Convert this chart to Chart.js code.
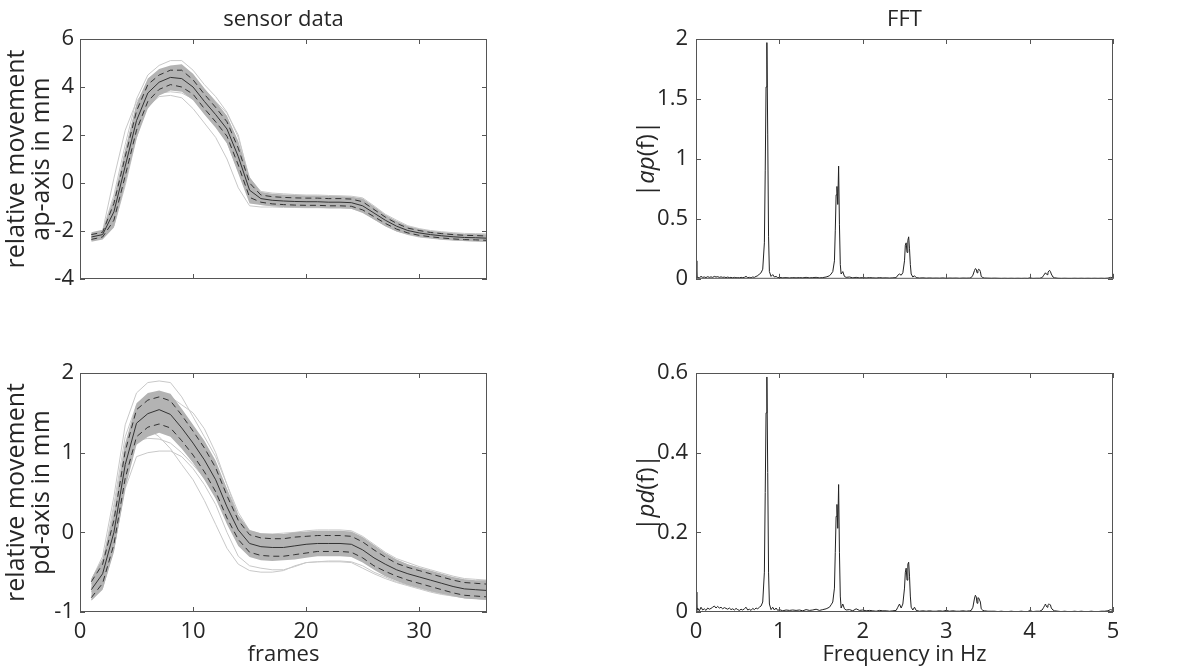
<!DOCTYPE html>
<html>
<head>
<meta charset="utf-8">
<script src="https://cdn.jsdelivr.net/npm/chart.js@4.4.0/dist/chart.umd.min.js"></script>
<style>
    body { margin: 0; background: #fff; width: 1187px; height: 670px; position: relative; overflow: hidden; }
    canvas { position: absolute; }
</style>
</head>
<body>
<canvas id="ap_time" width="560" height="300" style="left:0px;top:0px"></canvas>
<canvas id="pd_time" width="560" height="360" style="left:0px;top:310px"></canvas>
<canvas id="ap_fft" width="597" height="300" style="left:590px;top:0px"></canvas>
<canvas id="pd_fft" width="597" height="360" style="left:590px;top:310px"></canvas>
<script>
// ---- sensor data (frames 1..36) ----
const frames = [1,2,3,4,5,6,7,8,9,10,11,12,13,14,15,16,17,18,19,20,21,22,23,24,25,26,27,28,29,30,31,32,33,34,35,36];

const ap_mean  = [-2.25,-2.15,-1.2,0.7,2.6,3.75,4.2,4.4,4.35,4.0,3.4,2.85,2.25,1.1,-0.3,-0.65,-0.72,-0.75,-0.77,-0.78,-0.78,-0.8,-0.8,-0.82,-0.95,-1.25,-1.55,-1.8,-1.98,-2.08,-2.15,-2.2,-2.24,-2.27,-2.28,-2.3];
const ap_upper = [-2.15,-2.05,-0.85,1.1,3.0,4.1,4.5,4.7,4.7,4.3,3.7,3.15,2.55,1.45,0.0,-0.5,-0.57,-0.6,-0.62,-0.63,-0.63,-0.65,-0.65,-0.67,-0.78,-1.1,-1.42,-1.68,-1.88,-1.98,-2.06,-2.11,-2.15,-2.18,-2.19,-2.21];
const ap_lower = [-2.35,-2.25,-1.55,0.3,2.2,3.4,3.9,4.1,4.0,3.7,3.1,2.55,1.95,0.75,-0.6,-0.8,-0.87,-0.9,-0.92,-0.93,-0.93,-0.95,-0.95,-0.97,-1.12,-1.4,-1.68,-1.92,-2.08,-2.18,-2.24,-2.29,-2.33,-2.36,-2.37,-2.39];
const ap_band_hi = [-2.05,-1.95,-0.6,1.4,3.3,4.35,4.75,4.9,4.95,4.55,3.95,3.4,2.8,1.75,0.25,-0.38,-0.45,-0.48,-0.5,-0.52,-0.52,-0.54,-0.55,-0.57,-0.65,-0.98,-1.32,-1.58,-1.8,-1.92,-2.0,-2.05,-2.09,-2.12,-2.13,-2.15];
const ap_band_lo = [-2.45,-2.35,-1.85,-0.05,1.85,3.1,3.65,3.85,3.8,3.45,2.85,2.3,1.65,0.4,-0.85,-0.92,-0.97,-1.0,-1.02,-1.03,-1.03,-1.05,-1.05,-1.07,-1.25,-1.52,-1.8,-2.02,-2.15,-2.25,-2.3,-2.35,-2.39,-2.42,-2.43,-2.45];
const ap_trials = [
    [-2.1,-2.0,-0.5,1.6,3.5,4.5,4.9,5.1,5.1,4.7,4.1,3.6,2.95,1.9,0.2,-0.35,-0.42,-0.45,-0.48,-0.5,-0.5,-0.52,-0.53,-0.55,-0.62,-0.95,-1.3,-1.55,-1.78,-1.9,-1.98,-2.03,-2.07,-2.1,-2.11,-2.12],
    [-2.4,-2.3,-1.6,0.2,2.1,3.2,3.6,3.65,3.55,3.1,2.5,1.9,1.0,-0.2,-0.95,-1.0,-1.0,-1.02,-1.02,-1.03,-1.03,-1.04,-1.04,-1.06,-1.2,-1.5,-1.78,-2.0,-2.15,-2.25,-2.3,-2.35,-2.38,-2.4,-2.42,-2.43],
    [-2.2,-2.0,0.2,2.2,3.4,4.0,4.3,4.35,4.1,3.6,3.0,2.4,1.7,0.5,-0.7,-0.85,-0.9,-0.92,-0.93,-0.94,-0.94,-0.95,-0.95,-0.96,-1.1,-1.4,-1.7,-1.95,-2.1,-2.2,-2.27,-2.32,-2.36,-2.38,-2.4,-2.41],
    [-2.3,-2.2,-1.8,-0.1,1.9,3.4,4.1,4.5,4.6,4.4,3.9,3.4,2.9,2.0,0.1,-0.4,-0.5,-0.55,-0.57,-0.58,-0.6,-0.6,-0.62,-0.62,-0.7,-1.0,-1.35,-1.62,-1.82,-1.95,-2.02,-2.08,-2.12,-2.15,-2.17,-2.18],
    [-2.3,-2.2,-1.4,0.5,2.4,3.5,3.75,3.8,3.75,3.5,3.0,2.5,1.9,0.8,-0.7,-0.9,-0.95,-0.97,-0.98,-1.0,-1.0,-1.0,-1.0,-1.02,-1.15,-1.45,-1.75,-1.98,-2.12,-2.22,-2.28,-2.33,-2.37,-2.4,-2.41,-2.42],
    [-2.15,-2.05,-0.9,1.3,3.2,4.2,4.65,4.8,4.75,4.4,3.8,3.3,2.7,1.6,0.1,-0.45,-0.5,-0.52,-0.55,-0.55,-0.56,-0.57,-0.58,-0.6,-0.7,-1.02,-1.36,-1.62,-1.84,-1.95,-2.03,-2.08,-2.12,-2.15,-2.16,-2.18]
];

const pd_mean  = [-0.72,-0.52,0.0,0.85,1.37,1.49,1.54,1.48,1.31,1.12,0.91,0.66,0.32,0.03,-0.14,-0.18,-0.19,-0.19,-0.17,-0.15,-0.14,-0.14,-0.14,-0.15,-0.22,-0.32,-0.4,-0.47,-0.52,-0.56,-0.6,-0.64,-0.68,-0.71,-0.72,-0.73];
const pd_upper = [-0.62,-0.4,0.15,1.02,1.54,1.66,1.7,1.65,1.47,1.27,1.06,0.81,0.46,0.15,-0.03,-0.07,-0.08,-0.08,-0.06,-0.05,-0.04,-0.04,-0.04,-0.05,-0.12,-0.22,-0.31,-0.39,-0.44,-0.48,-0.52,-0.56,-0.6,-0.63,-0.64,-0.65];
const pd_lower = [-0.82,-0.64,-0.15,0.68,1.2,1.32,1.36,1.31,1.15,0.97,0.76,0.51,0.18,-0.09,-0.25,-0.29,-0.3,-0.3,-0.28,-0.26,-0.24,-0.24,-0.24,-0.25,-0.32,-0.42,-0.49,-0.55,-0.6,-0.64,-0.68,-0.72,-0.76,-0.79,-0.8,-0.81];
const pd_band_hi = [-0.58,-0.33,0.25,1.12,1.62,1.75,1.78,1.74,1.55,1.35,1.15,0.9,0.55,0.22,0.03,-0.01,-0.02,-0.02,0.0,0.01,0.02,0.02,0.02,0.01,-0.06,-0.16,-0.26,-0.34,-0.4,-0.44,-0.48,-0.52,-0.56,-0.59,-0.6,-0.6];
const pd_band_lo = [-0.86,-0.72,-0.25,0.55,1.1,1.2,1.25,1.2,1.05,0.87,0.66,0.42,0.1,-0.17,-0.31,-0.35,-0.36,-0.35,-0.34,-0.32,-0.3,-0.3,-0.3,-0.31,-0.38,-0.47,-0.55,-0.61,-0.66,-0.7,-0.74,-0.77,-0.8,-0.83,-0.84,-0.85];
const pd_trials = [
    [-0.6,-0.3,0.45,1.35,1.75,1.88,1.9,1.88,1.7,1.45,1.2,0.95,0.6,0.25,0.02,-0.02,-0.02,-0.01,0.0,0.02,0.03,0.03,0.03,0.02,-0.05,-0.15,-0.25,-0.33,-0.38,-0.43,-0.47,-0.51,-0.55,-0.58,-0.59,-0.6],
    [-0.85,-0.7,-0.2,0.55,0.95,1.0,1.02,1.02,0.95,0.8,0.6,0.35,0.0,-0.3,-0.42,-0.45,-0.47,-0.47,-0.43,-0.38,-0.37,-0.36,-0.36,-0.37,-0.42,-0.5,-0.56,-0.62,-0.66,-0.7,-0.74,-0.77,-0.8,-0.82,-0.83,-0.84],
    [-0.75,-0.5,0.3,1.1,1.35,1.3,1.2,1.05,0.85,0.66,0.4,0.1,-0.2,-0.4,-0.48,-0.5,-0.5,-0.48,-0.42,-0.38,-0.37,-0.37,-0.37,-0.38,-0.45,-0.52,-0.58,-0.63,-0.67,-0.71,-0.75,-0.78,-0.8,-0.82,-0.83,-0.84],
    [-0.8,-0.65,-0.2,0.6,1.2,1.5,1.65,1.7,1.6,1.5,1.3,1.0,0.6,0.2,0.0,-0.05,-0.06,-0.06,-0.04,-0.02,-0.01,0.0,0.0,-0.02,-0.08,-0.18,-0.27,-0.35,-0.41,-0.45,-0.5,-0.54,-0.58,-0.61,-0.62,-0.63],
    [-0.7,-0.45,0.2,0.9,1.15,1.18,1.17,1.12,1.0,0.85,0.68,0.45,0.15,-0.1,-0.25,-0.3,-0.32,-0.33,-0.3,-0.27,-0.26,-0.26,-0.26,-0.28,-0.35,-0.44,-0.52,-0.58,-0.63,-0.67,-0.71,-0.74,-0.77,-0.8,-0.81,-0.82],
    [-0.65,-0.4,0.35,1.2,1.6,1.72,1.75,1.7,1.52,1.3,1.1,0.85,0.5,0.18,-0.02,-0.06,-0.07,-0.06,-0.04,-0.02,-0.01,-0.01,-0.01,-0.03,-0.1,-0.2,-0.3,-0.38,-0.43,-0.47,-0.51,-0.55,-0.59,-0.62,-0.63,-0.64]
];

// ---- FFT (Hz) ----
const freq = [
    0,0.01,0.02,0.04,0.06,0.08,0.10,0.12,0.14,0.16,
    0.18,0.20,0.22,0.24,0.26,0.28,0.30,0.32,0.34,0.36,
    0.38,0.40,0.42,0.44,0.46,0.48,0.50,0.52,0.54,0.56,
    0.58,0.60,0.62,0.64,0.66,0.68,0.70,0.72,0.74,0.76,
    0.78,0.80,0.82,0.83,0.84,0.85,0.86,0.87,0.88,0.90,
    0.92,0.94,0.96,0.98,1.00,1.04,1.08,1.12,1.16,1.20,
    1.24,1.28,1.32,1.36,1.40,1.44,1.48,1.52,1.56,1.60,
    1.62,1.64,1.66,1.67,1.68,1.69,1.70,1.71,1.72,1.73,
    1.74,1.76,1.78,1.80,1.84,1.88,1.92,1.96,2.00,2.04,
    2.08,2.12,2.16,2.20,2.24,2.28,2.32,2.36,2.40,2.42,
    2.44,2.46,2.48,2.50,2.51,2.52,2.53,2.54,2.55,2.56,
    2.57,2.58,2.60,2.62,2.64,2.68,2.72,2.76,2.80,2.84,
    2.88,2.92,2.96,3.00,3.04,3.08,3.12,3.16,3.20,3.24,
    3.28,3.30,3.32,3.34,3.35,3.36,3.37,3.38,3.39,3.40,
    3.41,3.42,3.44,3.46,3.50,3.54,3.58,3.62,3.66,3.70,
    3.74,3.78,3.82,3.86,3.90,3.94,3.98,4.00,4.04,4.08,
    4.12,4.15,4.17,4.18,4.19,4.20,4.21,4.22,4.23,4.24,
    4.25,4.26,4.28,4.30,4.34,4.38,4.42,4.46,4.50,4.54,
    4.58,4.62,4.66,4.70,4.74,4.78,4.82,4.86,4.90,4.94,
    4.97,5.00
];
const ap_fft = [
    0.15,0.01,0.012,0.008,0.02,0.012,0.015,0.01,0.018,0.012,
    0.016,0.012,0.02,0.015,0.018,0.012,0.016,0.012,0.014,0.01,
    0.014,0.01,0.012,0.008,0.012,0.009,0.01,0.008,0.012,0.01,
    0.012,0.02,0.01,0.012,0.008,0.015,0.012,0.02,0.025,0.04,
    0.05,0.08,0.3,0.9,1.6,1.97,1.2,0.35,0.06,0.02,
    0.035,0.015,0.02,0.01,0.012,0.008,0.01,0.007,0.01,0.008,
    0.01,0.008,0.012,0.008,0.01,0.012,0.008,0.01,0.015,0.025,
    0.04,0.06,0.15,0.4,0.7,0.77,0.62,0.94,0.45,0.12,
    0.04,0.06,0.02,0.012,0.015,0.008,0.012,0.008,0.01,0.007,
    0.01,0.008,0.006,0.01,0.007,0.008,0.006,0.008,0.01,0.03,
    0.04,0.03,0.05,0.15,0.28,0.3,0.22,0.32,0.35,0.25,
    0.12,0.04,0.015,0.025,0.01,0.006,0.008,0.005,0.007,0.005,
    0.006,0.005,0.007,0.004,0.006,0.005,0.006,0.004,0.006,0.005,
    0.006,0.01,0.03,0.07,0.085,0.08,0.05,0.07,0.08,0.075,
    0.06,0.02,0.01,0.006,0.005,0.004,0.005,0.004,0.003,0.004,
    0.003,0.004,0.003,0.004,0.003,0.004,0.003,0.008,0.003,0.004,
    0.004,0.01,0.03,0.04,0.05,0.04,0.035,0.05,0.065,0.07,
    0.06,0.04,0.015,0.008,0.004,0.003,0.004,0.003,0.003,0.004,
    0.003,0.004,0.003,0.004,0.003,0.004,0.003,0.004,0.003,0.005,
    0.012,0.008
];
const pd_fft = [
    0.05,0.004,0.01,0.003,0.012,0.005,0.008,0.004,0.01,0.007,
    0.009,0.012,0.015,0.01,0.014,0.01,0.012,0.008,0.011,0.009,
    0.007,0.01,0.006,0.008,0.005,0.009,0.006,0.004,0.007,0.005,
    0.008,0.012,0.005,0.007,0.004,0.009,0.006,0.01,0.008,0.012,
    0.015,0.025,0.1,0.3,0.5,0.59,0.35,0.1,0.02,0.006,
    0.012,0.005,0.01,0.004,0.006,0.003,0.005,0.004,0.005,0.004,
    0.005,0.003,0.006,0.004,0.005,0.007,0.004,0.006,0.008,0.012,
    0.018,0.025,0.06,0.15,0.24,0.27,0.21,0.32,0.15,0.04,
    0.01,0.02,0.008,0.005,0.006,0.003,0.008,0.004,0.005,0.003,
    0.004,0.003,0.002,0.004,0.003,0.003,0.002,0.003,0.004,0.012,
    0.02,0.01,0.02,0.06,0.1,0.11,0.08,0.12,0.125,0.09,
    0.04,0.012,0.005,0.012,0.004,0.002,0.003,0.002,0.003,0.002,
    0.002,0.003,0.002,0.004,0.002,0.003,0.002,0.002,0.003,0.002,
    0.003,0.004,0.012,0.035,0.042,0.038,0.022,0.036,0.035,0.03,
    0.025,0.008,0.004,0.003,0.002,0.002,0.002,0.001,0.002,0.001,
    0.001,0.002,0.001,0.001,0.002,0.001,0.001,0.004,0.001,0.002,
    0.002,0.005,0.012,0.016,0.02,0.015,0.012,0.018,0.02,0.019,
    0.018,0.01,0.005,0.003,0.002,0.001,0.002,0.001,0.001,0.002,
    0.001,0.002,0.001,0.001,0.002,0.001,0.001,0.002,0.002,0.003,
    0.006,0.004
];

const FONT = '"Open Sans", "Noto Sans", sans-serif';
const TEXT_COLOR = '#262626';

function to_points(xs, ys) {
    return xs.map((x, i) => ({x: x, y: ys[i]}));
}

// box, inward ticks, titles and axis labels (MATLAB look)
const panel_decor = {
    id: 'panel_decor',
    afterDraw(chart, args, opts) {
        const ctx = chart.ctx;
        const a = chart.chartArea;
        const xs = chart.scales.x;
        const ys = chart.scales.y;
        ctx.save();
        ctx.strokeStyle = '#555555';
        ctx.lineWidth = 1;
        ctx.strokeRect(a.left + 0.5, a.top + 0.5, a.right - a.left - 1, a.bottom - a.top - 1);
        ctx.beginPath();
        xs.ticks.forEach(t => {
            const px = Math.round(xs.getPixelForValue(t.value)) + 0.5;
            ctx.moveTo(px, a.bottom); ctx.lineTo(px, a.bottom - 5);
            ctx.moveTo(px, a.top); ctx.lineTo(px, a.top + 5);
        });
        ys.ticks.forEach(t => {
            const py = Math.round(ys.getPixelForValue(t.value)) + 0.5;
            ctx.moveTo(a.left, py); ctx.lineTo(a.left + 5, py);
            ctx.moveTo(a.right, py); ctx.lineTo(a.right - 5, py);
        });
        ctx.stroke();

        ctx.fillStyle = TEXT_COLOR;
        ctx.textBaseline = 'middle';
        if (opts.title) {
            ctx.font = '22px ' + FONT;
            ctx.textAlign = 'center';
            ctx.fillText(opts.title, (a.left + a.right) / 2, a.top - 19);
        }
        if (opts.xlabel) {
            ctx.font = '22px ' + FONT;
            ctx.textAlign = 'center';
            ctx.fillText(opts.xlabel, (a.left + a.right) / 2, a.bottom + 43);
        }
        // y label lines, each line is a list of [text, italic] parts
        const cy = (a.top + a.bottom) / 2;
        (opts.ylabel || []).forEach((line, i) => {
            ctx.save();
            ctx.translate(a.left - opts.ylabel_off[i], cy);
            ctx.rotate(-Math.PI / 2);
            ctx.textAlign = 'left';
            let total = 0;
            line.forEach(p => {
                ctx.font = (p[1] ? 'italic ' : '') + opts.ylabel_size + 'px ' + FONT;
                total += ctx.measureText(p[0]).width;
            });
            let x = -total / 2;
            line.forEach(p => {
                ctx.font = (p[1] ? 'italic ' : '') + opts.ylabel_size + 'px ' + FONT;
                ctx.fillText(p[0], x, 0);
                x += ctx.measureText(p[0]).width;
            });
            ctx.restore();
        });
        ctx.restore();
    }
};

function tick_label(v) {
    return String(Math.round(v * 100) / 100);
}

function make_chart(element_id, datasets, axes, decor, padding) {
    const config = {
        type: 'line',
        data: { datasets: datasets },
        options: {
            responsive: false,
            animation: false,
            events: [],
            layout: { padding: padding },
            plugins: {
                legend: { display: false },
                tooltip: { enabled: false },
                panel_decor: decor
            },
            elements: { point: { radius: 0 }, line: { tension: 0 } },
            scales: {
                x: {
                    type: 'linear',
                    min: axes.xmin, max: axes.xmax,
                    grid: { display: false, drawTicks: false },
                    border: { display: false },
                    ticks: {
                        display: axes.xlabels, stepSize: axes.xstep, padding: 7,
                        includeBounds: false,
                        color: TEXT_COLOR, font: { family: FONT, size: 22 },
                        maxRotation: 0, callback: tick_label
                    },
                    afterFit: s => { s.height = axes.xheight; }
                },
                y: {
                    type: 'linear',
                    min: axes.ymin, max: axes.ymax,
                    grid: { display: false, drawTicks: false },
                    border: { display: false },
                    ticks: {
                        stepSize: axes.ystep, padding: axes.ypad,
                        color: TEXT_COLOR, font: { family: FONT, size: 22 },
                        callback: tick_label
                    },
                    afterFit: s => { s.width = axes.ywidth; }
                }
            }
        },
        plugins: [panel_decor]
    };
    new Chart(document.getElementById(element_id), config);
}

function sensor_datasets(trials, band_lo, band_hi, lower, upper, mean) {
    const sets = [];
    trials.forEach(t => {
        sets.push({ data: to_points(frames, t), borderColor: '#c8c8c8', borderWidth: 1, fill: false, order: 10 });
    });
    sets.push({ data: to_points(frames, band_lo), borderWidth: 0, borderColor: 'rgba(0,0,0,0)', fill: false, order: 8 });
    sets.push({ data: to_points(frames, band_hi), borderWidth: 0, borderColor: 'rgba(0,0,0,0)', fill: '-1', backgroundColor: '#b3b3b3', order: 8 });
    sets.push({ data: to_points(frames, lower), borderColor: '#333333', borderWidth: 1, borderDash: [6, 4], fill: false, order: 1 });
    sets.push({ data: to_points(frames, upper), borderColor: '#333333', borderWidth: 1, borderDash: [6, 4], fill: false, order: 1 });
    sets.push({ data: to_points(frames, mean), borderColor: '#333333', borderWidth: 1, fill: false, order: 0 });
    return sets;
}

function fft_datasets(values) {
    return [{ data: to_points(freq, values), borderColor: '#222222', borderWidth: 1, fill: false }];
}

make_chart('ap_time',
    sensor_datasets(ap_trials, ap_band_lo, ap_band_hi, ap_lower, ap_upper, ap_mean),
    { xmin: 0, xmax: 36, xstep: 10, xlabels: false, xheight: 21, ymin: -4, ymax: 6, ystep: 2, ypad: 6, ywidth: 80 },
    { title: 'sensor data', ylabel: [[['relative movement', false]], [['ap-axis in mm', false]]], ylabel_off: [63, 38], ylabel_size: 25 },
    { top: 39, right: 73, left: 0, bottom: 0 });

make_chart('pd_time',
    sensor_datasets(pd_trials, pd_band_lo, pd_band_hi, pd_lower, pd_upper, pd_mean),
    { xmin: 0, xmax: 36, xstep: 10, xlabels: true, xheight: 58, ymin: -1, ymax: 2, ystep: 1, ypad: 6, ywidth: 80 },
    { xlabel: 'frames', ylabel: [[['relative movement', false]], [['pd-axis in mm', false]]], ylabel_off: [63, 38], ylabel_size: 25 },
    { top: 63, right: 73, left: 0, bottom: 0 });

make_chart('ap_fft',
    fft_datasets(ap_fft),
    { xmin: 0, xmax: 5, xstep: 1, xlabels: false, xheight: 21, ymin: 0, ymax: 2, ystep: 0.5, ypad: 8, ywidth: 106 },
    { title: 'FFT', ylabel: [[['|', false], ['ap', true], ['(f)|', false]]], ylabel_off: [49], ylabel_size: 24 },
    { top: 39, right: 74, left: 0, bottom: 0 });

make_chart('pd_fft',
    fft_datasets(pd_fft),
    { xmin: 0, xmax: 5, xstep: 1, xlabels: true, xheight: 58, ymin: 0, ymax: 0.6, ystep: 0.2, ypad: 8, ywidth: 106 },
    { xlabel: 'Frequency in Hz', ylabel: [[['|', false], ['pd', true], ['(f)|', false]]], ylabel_off: [49], ylabel_size: 24 },
    { top: 63, right: 74, left: 0, bottom: 0 });
</script>
</body>
</html>
